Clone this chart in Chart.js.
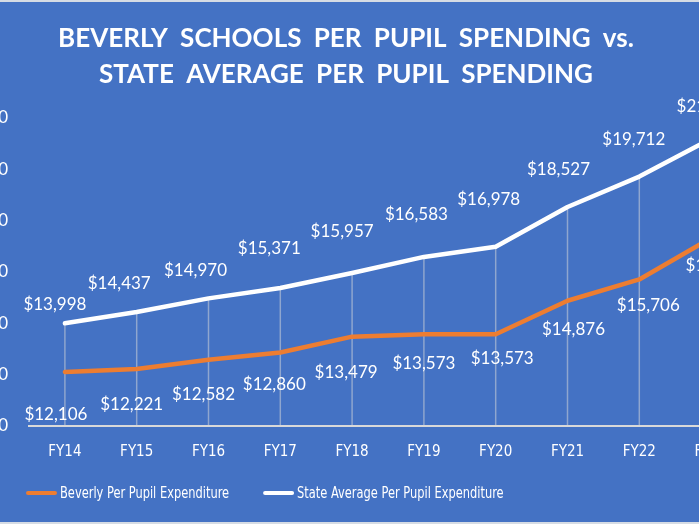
<!DOCTYPE html>
<html>
<head>
<meta charset="utf-8">
<script src="https://cdn.jsdelivr.net/npm/chart.js@4.4.1/dist/chart.umd.min.js"></script>
<style>
  html, body { margin: 0; padding: 0; width: 699px; height: 524px; overflow: hidden; background: #D6DCE4; }
  #frame { position: absolute; left: 0; top: 2px; width: 699px; height: 520px; background: #4472C4; overflow: hidden; }
  #wrap { position: absolute; left: -55px; top: 0; width: 810px; height: 520px; }
</style>
</head>
<body>
<div id="frame"><div id="wrap"><canvas id="spendChart" width="810" height="520"></canvas></div></div>
<script>
// values (FY23 only partly visible, estimated)
const fiscalYears = ['FY14', 'FY15', 'FY16', 'FY17', 'FY18', 'FY19', 'FY20', 'FY21', 'FY22', 'FY23'];
const beverlySpending = [12106, 12221, 12582, 12860, 13479, 13573, 13573, 14876, 15706, 17320];
const stateSpending = [13998, 14437, 14970, 15371, 15957, 16583, 16978, 18527, 19712, 21180];
const yTicks = { min: 10000, max: 22000, step: 2000 };

// hand-nudged label positions as in the original (px from the point)
const beverlyLabelNudge = {
    dx: [-9, -5, -5, -6, -6, 0, 6.5, 6, 9, 6],
    dy: [43, 36, 34.5, 31.6, 35.6, 29, 24, 28.6, 26, 27.5]
};
const stateLabelNudge = {
    dx: [-10, -17.5, -13, -11, -10, -7.5, -7, -9, -5.5, -3],
    dy: [-19, -29, -28, -40, -41, -42, -47, -37, -37, -32]
};

const money = v => '$' + v.toLocaleString('en-US');
const labelFont = '17px Lato';
const narrowFont = "'DejaVu Sans Condensed', 'Liberation Sans Narrow', sans-serif";

// wider word gaps in the title, like the original
const titleSpacing = {
    id: 'titleSpacing',
    beforeDraw(chart) { chart.ctx.wordSpacing = '6px'; },
    beforeDatasetsDraw(chart) { chart.ctx.wordSpacing = '0px'; }
};

const dropLines = {
    id: 'dropLines',
    beforeDatasetsDraw(chart) {
        const ctx = chart.ctx;
        const bottom = chart.chartArea.bottom;
        const metas = chart.data.datasets.map((d, i) => chart.getDatasetMeta(i));
        ctx.save();
        ctx.strokeStyle = 'rgba(217,217,217,0.5)';
        ctx.lineWidth = 1.5;
        metas[0].data.forEach((pt, i) => {
            const top = Math.min(...metas.map(m => m.data[i].y));
            ctx.beginPath();
            ctx.moveTo(pt.x, top);
            ctx.lineTo(pt.x, bottom);
            ctx.stroke();
        });
        ctx.restore();
    }
};

const valueLabels = {
    id: 'valueLabels',
    afterDatasetsDraw(chart) {
        const ctx = chart.ctx;
        const nudges = [beverlyLabelNudge, stateLabelNudge];
        ctx.save();
        ctx.font = labelFont;
        ctx.fillStyle = '#FFFFFF';
        ctx.textAlign = 'center';
        ctx.textBaseline = 'middle';
        chart.data.datasets.forEach((ds, di) => {
            chart.getDatasetMeta(di).data.forEach((pt, i) => {
                ctx.fillText(money(ds.data[i]), pt.x + nudges[di].dx[i], pt.y + nudges[di].dy[i]);
            });
        });
        ctx.restore();
    }
};

// Excel-style legend parked at the lower left, text squeezed like the original
const lineLegend = {
    id: 'lineLegend',
    afterDraw(chart) {
        const ctx = chart.ctx;
        const y = 491;
        const squeeze = 0.82;
        let x = 81;
        ctx.save();
        ctx.font = '15.5px ' + narrowFont;
        ctx.textBaseline = 'middle';
        ctx.textAlign = 'left';
        chart.data.datasets.forEach(ds => {
            ctx.strokeStyle = ds.borderColor;
            ctx.lineWidth = 4;
            ctx.lineCap = 'round';
            ctx.beginPath();
            ctx.moveTo(x + 2, y);
            ctx.lineTo(x + 29, y);
            ctx.stroke();
            const tx = x + 34;
            ctx.save();
            ctx.translate(tx, y + 1);
            ctx.scale(squeeze, 1);
            ctx.fillStyle = '#FFFFFF';
            ctx.fillText(ds.label, 0, 0);
            ctx.restore();
            x = tx + ctx.measureText(ds.label).width * squeeze + 34;
        });
        ctx.restore();
    }
};

const ctx = document.getElementById('spendChart').getContext('2d');
new Chart(ctx, {
    type: 'line',
    data: {
        labels: fiscalYears,
        datasets: [{
            label: 'Beverly Per Pupil Expenditure',
            data: beverlySpending,
            borderColor: '#ED7D31',
            backgroundColor: '#ED7D31',
            borderWidth: 4.5,
            pointRadius: 0,
            borderJoinStyle: 'round',
            borderCapStyle: 'round'
        }, {
            label: 'State Average Per Pupil Expenditure',
            data: stateSpending,
            borderColor: '#FFFFFF',
            backgroundColor: '#FFFFFF',
            borderWidth: 4.5,
            pointRadius: 0,
            borderJoinStyle: 'round',
            borderCapStyle: 'round'
        }]
    },
    options: {
        responsive: false,
        animation: false,
        layout: { padding: { left: 0, right: 8, top: 0, bottom: 56 } },
        plugins: {
            legend: { display: false },
            tooltip: { enabled: false },
            title: {
                display: true,
                text: ['BEVERLY SCHOOLS PER PUPIL SPENDING vs.', 'STATE AVERAGE PER PUPIL SPENDING'],
                color: '#FFFFFF',
                font: { family: 'Lato', size: 26, weight: 'bold', lineHeight: 1.4 },
                padding: { top: 18, bottom: 25 }
            }
        },
        scales: {
            x: {
                offset: true,
                grid: { display: false, drawTicks: false },
                border: { display: true, color: '#D9D9D9', width: 2 },
                ticks: {
                    color: '#FFFFFF',
                    padding: 17,
                    font: { family: narrowFont, size: 15 }
                },
                afterFit(scale) { scale.height = 40; }
            },
            y: {
                min: yTicks.min,
                max: yTicks.max,
                grid: { display: false, drawTicks: false },
                border: { display: false },
                ticks: {
                    stepSize: yTicks.step,
                    color: '#FFFFFF',
                    padding: 21,
                    font: { family: 'Lato', size: 17 },
                    callback: v => money(v)
                },
                afterFit(scale) { scale.width = 84; }
            }
        }
    },
    plugins: [titleSpacing, dropLines, valueLabels, lineLegend]
});
</script>
</body>
</html>
